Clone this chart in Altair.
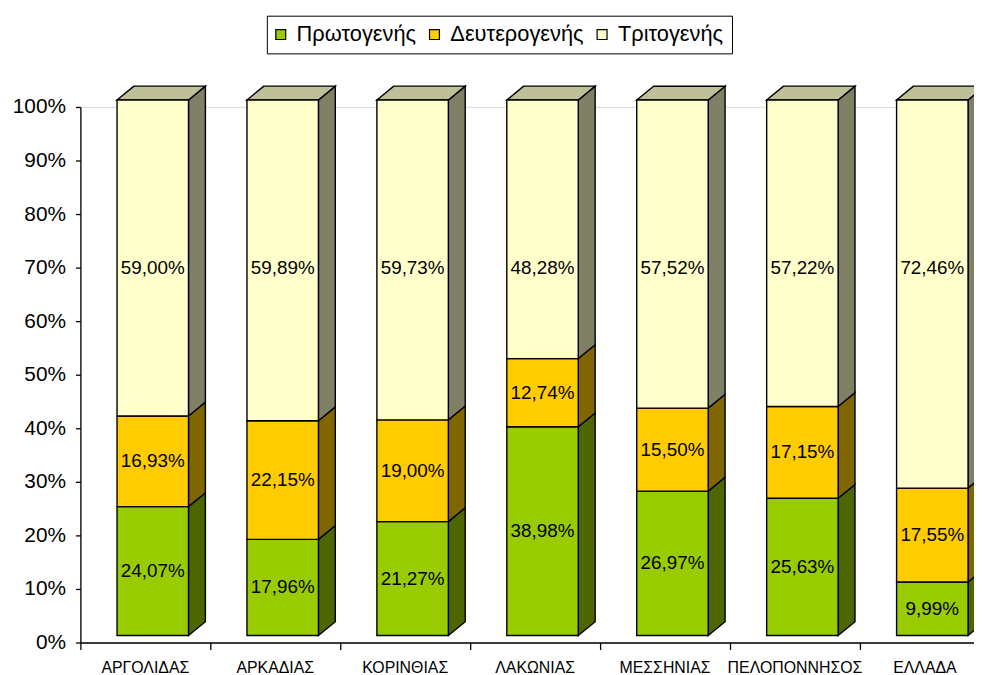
import altair as alt
import pandas as pd

# ---- data ----
categories = ["ΑΡΓΟΛΙΔΑΣ", "ΑΡΚΑΔΙΑΣ", "ΚΟΡΙΝΘΙΑΣ", "ΛΑΚΩΝΙΑΣ", "ΜΕΣΣΗΝΙΑΣ", "ΠΕΛΟΠΟΝΝΗΣΟΣ", "ΕΛΛΑΔΑ"]
series_names = ["Πρωτογενής", "Δευτερογενής", "Τριτογενής"]
primary = [24.07, 17.96, 21.27, 38.98, 26.97, 25.63, 9.99]
secondary = [16.93, 22.15, 19.00, 12.74, 15.50, 17.15, 17.55]
tertiary = [59.00, 59.89, 59.73, 48.28, 57.52, 57.22, 72.46]
label_texts = {
    "Πρωτογενής": ["24,07%", "17,96%", "21,27%", "38,98%", "26,97%", "25,63%", "9,99%"],
    "Δευτερογενής": ["16,93%", "22,15%", "19,00%", "12,74%", "15,50%", "17,15%", "17,55%"],
    "Τριτογενής": ["59,00%", "59,89%", "59,73%", "48,28%", "57,52%", "57,22%", "72,46%"],
}

# ---- style ----
front_colors = ["#99CC00", "#FFCC00", "#FFFFCC"]
side_colors = ["#4D6600", "#806600", "#808066"]
top_color = "#BFBF99"
FONT = "Liberation Sans"

# geometry of the pseudo-3D bars (in category units / percent units)
BAR_L, BAR_R = 0.282, 0.832
DEPTH_X, DEPTH_Y = 0.13, 2.59
TOP_LABEL_POS = 68.7  # Excel puts top-segment labels on one common row

values = [primary, secondary, tertiary]

front_rows, side_rows, top_rows, lab_rows = [], [], [], []
for i, cat in enumerate(categories):
    base = 0.0
    for k, s in enumerate(series_names):
        v = values[k][i]
        lo, hi = base, base + v
        front_rows.append(dict(cat=cat, series=s, x=i + BAR_L, x2=i + BAR_R, y=lo, y2=hi))
        seg = f"{i}-{k}"
        side_rows.append(dict(seg=seg, fill=side_colors[k], x=i + BAR_R, y=lo, y2=hi))
        side_rows.append(dict(seg=seg, fill=side_colors[k], x=i + BAR_R + DEPTH_X, y=lo + DEPTH_Y, y2=hi + DEPTH_Y))
        ly = (lo + hi) / 2 if k < 2 else TOP_LABEL_POS
        lab_rows.append(dict(x=i + (BAR_L + BAR_R) / 2, y=ly, text=label_texts[s][i]))
        base = hi
    top_rows.append(dict(seg=str(i), y=base, x=i + BAR_L, x2=i + BAR_R))
    top_rows.append(dict(seg=str(i), y=base + DEPTH_Y, x=i + BAR_L + DEPTH_X, x2=i + BAR_R + DEPTH_X))

front_df = pd.DataFrame(front_rows)
side_df = pd.DataFrame(side_rows)
top_df = pd.DataFrame(top_rows)
lab_df = pd.DataFrame(lab_rows)
cat_df = pd.DataFrame(dict(x=[i + 0.5 for i in range(len(categories))], text=categories))

WIDTH = 901
STEP = 131  # px per category; the last category runs past the right edge
xscale = alt.Scale(domain=[0, WIDTH / STEP], nice=False, zero=False)
yscale = alt.Scale(domain=[0, 100], nice=False)

xaxis = alt.Axis(values=list(range(len(categories))), labels=False, tickSize=7,
                 domainColor="black", tickColor="black", domainWidth=1.3, tickWidth=1.3,
                 grid=False, title=None)
yaxis = alt.Axis(values=list(range(0, 101, 10)), labelExpr="datum.value + '%'",
                 tickSize=5, labelPadding=10, labelFontSize=21, labelFont=FONT,
                 labelColor="black", domainColor="black", tickColor="black",
                 domainWidth=1.3, tickWidth=1.3, grid=False, title=None)

OUT = dict(stroke="black", strokeWidth=1.4, yOffset=-7, y2Offset=-7)

side = alt.Chart(side_df).mark_area(**OUT).encode(
    x=alt.X("x:Q", scale=xscale, axis=xaxis),
    y=alt.Y("y:Q", scale=yscale, axis=yaxis),
    y2="y2:Q",
    detail="seg:N",
    color=alt.Color("fill:N", scale=None),
)

top = alt.Chart(top_df).mark_area(orient="horizontal", color=top_color, **OUT).encode(
    y=alt.Y("y:Q", scale=yscale, axis=yaxis),
    x=alt.X("x:Q", scale=xscale, axis=xaxis),
    x2="x2:Q",
    detail="seg:N",
)

front = alt.Chart(front_df).mark_bar(**OUT).encode(
    x=alt.X("x:Q", scale=xscale, axis=xaxis),
    x2="x2:Q",
    y=alt.Y("y:Q", scale=yscale, axis=yaxis),
    y2="y2:Q",
    color=alt.Color("series:N", scale=alt.Scale(domain=series_names, range=front_colors),
                    legend=alt.Legend(orient="none", legendX=188, legendY=-92, direction="horizontal",
                                      title=None, strokeColor="black", fillColor="white", padding=8,
                                      symbolType="square", symbolSize=100, symbolStrokeColor="black",
                                      symbolStrokeWidth=1.2, symbolOffset=-5, labelFontSize=22,
                                      labelFont=FONT, labelColor="black", labelOffset=5,
                                      columnPadding=10)),
)

labels = alt.Chart(lab_df).mark_text(font=FONT, fontSize=19, color="black", baseline="middle", yOffset=-7).encode(
    x=alt.X("x:Q", scale=xscale, axis=xaxis),
    y=alt.Y("y:Q", scale=yscale, axis=yaxis),
    text="text:N",
)

cat_labels = alt.Chart(cat_df).mark_text(font=FONT, fontSize=16, color="black", baseline="middle").encode(
    x=alt.X("x:Q", scale=xscale, axis=xaxis),
    y=alt.value(566),
    text="text:N",
)

chart = alt.layer(side, top, front, labels, cat_labels).resolve_scale(color="independent").properties(
    width=WIDTH, height=540,
    autosize=alt.AutoSizeParams(type="none"),
    padding={"left": 73, "top": 97, "right": 0, "bottom": 30},
).configure_view(strokeWidth=0, stroke=None, fill="white").configure(background="white")

chart.save("out.html", embed_options={"renderer": "svg", "actions": False})
